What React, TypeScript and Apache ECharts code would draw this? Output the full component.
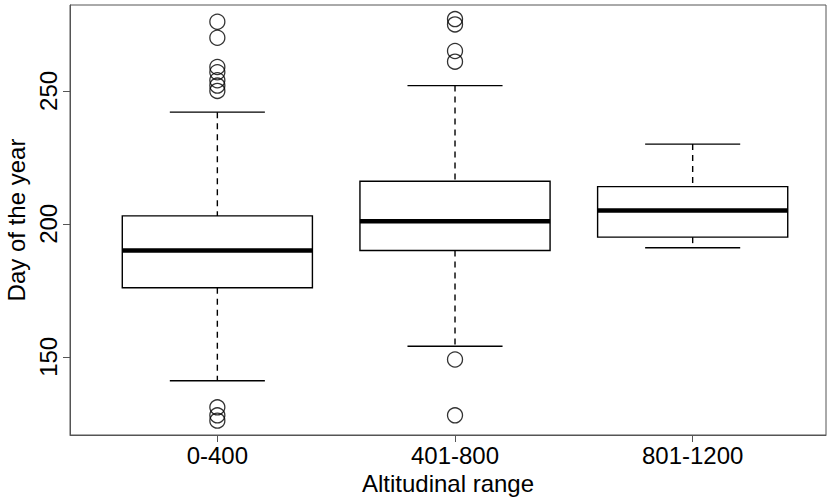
import React, { useEffect, useRef } from "react";
import * as echarts from "echarts";

const categories = ["0-400", "401-800", "801-1200"];
const lowerWhisker = [141, 154, 191];
const firstQuartile = [176, 190, 195];
const medians = [190, 201, 205];
const thirdQuartile = [203, 216, 214];
const upperWhisker = [242, 252, 230];
const outliers0to400 = [276, 270, 259, 257, 254, 252, 250, 131, 128, 126];
const outliers401to800 = [277, 275, 265, 261, 149, 128];
const outliers801to1200: number[] = [];
const yTicks = [150, 200, 250];
const xTicks = [1, 2, 3];

const FONT = "'Liberation Sans', Arial, sans-serif";
const FS = 24;

export default function App() {
  const ref = useRef<HTMLDivElement>(null);
  useEffect(() => {
    if (!ref.current) return;
    const chart = echarts.init(ref.current, undefined, { renderer: "svg" });
    const boxData = categories.map((_, i) => [
      i + 1,
      lowerWhisker[i],
      firstQuartile[i],
      medians[i],
      thirdQuartile[i],
      upperWhisker[i],
    ]);
    const outlierData: number[][] = [];
    [outliers0to400, outliers401to800, outliers801to1200].forEach((arr, i) =>
      arr.forEach((v) => outlierData.push([i + 1, v]))
    );
    const stroke = "#000";
    chart.setOption({
      animation: false,
      backgroundColor: "#fff",
      grid: {
        left: 70,
        top: 5,
        width: 756,
        height: 430,
        show: true,
        outerBoundsMode: "none",
        containLabel: false,
        borderColor: "#555",
        borderWidth: 1,
        backgroundColor: "transparent",
      },
      xAxis: {
        type: "value",
        min: 0.38,
        max: 3.561,
        splitLine: { show: false },
        axisLine: { show: true, lineStyle: { color: "#555", width: 1 } },
        axisTick: { show: true, customValues: xTicks, length: 7, lineStyle: { color: "#555" } },
        axisLabel: {
          customValues: xTicks,
          formatter: (v: number) => categories[Math.round(v) - 1] ?? "",
          fontSize: FS,
          fontFamily: FONT,
          color: "#000",
          margin: 8,
        },
        name: "Altitudinal range",
        nameLocation: "middle",
        nameGap: 35,
        nameTextStyle: { fontSize: FS, fontFamily: FONT, color: "#000" },
      },
      yAxis: {
        type: "value",
        min: 120.6,
        max: 282.3,
        splitLine: { show: false },
        axisLine: { show: true, lineStyle: { color: "#555", width: 1 } },
        axisTick: { show: true, customValues: yTicks, length: 7, lineStyle: { color: "#555" } },
        axisLabel: {
          customValues: yTicks,
          rotate: 90,
          fontSize: FS,
          fontFamily: FONT,
          color: "#000",
          margin: 10,
        },
        name: "Day of the year",
        nameLocation: "middle",
        nameGap: 40,
        nameRotate: 90,
        nameTextStyle: { fontSize: FS, fontFamily: FONT, color: "#000" },
      },
      series: [
        {
          type: "custom",
          data: boxData,
          encode: { x: 0, y: [1, 2, 3, 4, 5] },
          renderItem: (params: any, api: any) => {
            const x = api.value(0);
            const lw = api.value(1);
            const q1 = api.value(2);
            const md = api.value(3);
            const q3 = api.value(4);
            const uw = api.value(5);
            const c = (xx: number, yy: number) => api.coord([xx, yy]);
            const center = c(x, md);
            const boxTL = c(x - 0.4, q3);
            const boxBR = c(x + 0.4, q1);
            const capL = c(x - 0.2, uw);
            const capR = c(x + 0.2, uw);
            const capLl = c(x - 0.2, lw);
            const capRl = c(x + 0.2, lw);
            const medL = c(x - 0.4, md);
            const medR = c(x + 0.4, md);
            const solid = { stroke, lineWidth: 1.4, fill: null };
            const dashed = { stroke, lineWidth: 1.4, lineDash: [6, 5] };
            return {
              type: "group",
              children: [
                { type: "line", shape: { x1: center[0], y1: capL[1], x2: center[0], y2: boxTL[1] }, style: dashed },
                { type: "line", shape: { x1: center[0], y1: boxBR[1], x2: center[0], y2: capLl[1] }, style: dashed },
                { type: "line", shape: { x1: capL[0], y1: capL[1], x2: capR[0], y2: capR[1] }, style: solid },
                { type: "line", shape: { x1: capLl[0], y1: capLl[1], x2: capRl[0], y2: capRl[1] }, style: solid },
                {
                  type: "rect",
                  shape: { x: boxTL[0], y: boxTL[1], width: boxBR[0] - boxTL[0], height: boxBR[1] - boxTL[1] },
                  style: { stroke, lineWidth: 1.4, fill: "none" },
                },
                { type: "line", shape: { x1: medL[0], y1: medL[1], x2: medR[0], y2: medR[1] }, style: { stroke, lineWidth: 4.5 } },
              ],
            };
          },
        },
        {
          type: "scatter",
          data: outlierData,
          symbol: "circle",
          symbolSize: 15,
          itemStyle: { color: "transparent", borderColor: stroke, borderWidth: 1.3 },
        },
      ],
    });
    return () => chart.dispose();
  }, []);
  return (
    <div
      ref={ref}
      style={{ position: "fixed", left: 0, top: 0, width: 831, height: 499, background: "#fff" }}
    />
  );
}
